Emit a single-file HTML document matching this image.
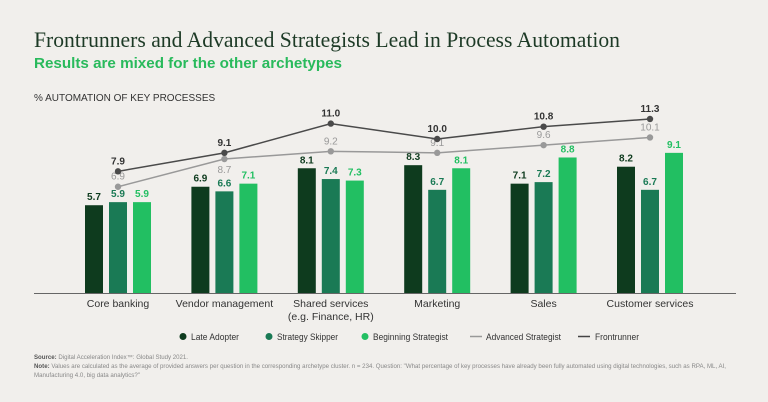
<!DOCTYPE html>
<html><head><meta charset="utf-8">
<style>
body{margin:0;background:#f1efec;}
svg{display:block;font-family:"Liberation Sans",sans-serif;}
</style></head>
<body>
<svg id="chart" width="768" height="402" viewBox="0 0 768 402">
<rect width="768" height="402" fill="#f1efec"/>
<text x="34" y="47" font-family="Liberation Serif,serif" font-size="22" textLength="586" lengthAdjust="spacingAndGlyphs" fill="#1d3a26">Frontrunners and Advanced Strategists Lead in Process Automation</text>
<text x="34" y="68" font-size="15" font-weight="bold" textLength="308" lengthAdjust="spacingAndGlyphs" fill="#29ba5c">Results are mixed for the other archetypes</text>
<text x="34" y="101" font-size="10" fill="#333">% AUTOMATION OF KEY PROCESSES</text>
<g id="bars"></g>
<g id="lines"></g>
<line x1="34" y1="293.5" x2="736" y2="293.5" stroke="#666" stroke-width="1"/>
<g id="xlabels" font-size="10.5" fill="#333" text-anchor="middle"></g>
<g font-size="9.5" fill="#333">
<g><circle cx="183" cy="336.5" r="3.5" fill="#0e3b1e"/><text x="191" y="340" textLength="48" lengthAdjust="spacingAndGlyphs">Late Adopter</text></g>
<g><circle cx="269" cy="336.5" r="3.5" fill="#1a7a55"/><text x="277" y="340" textLength="61" lengthAdjust="spacingAndGlyphs">Strategy Skipper</text></g>
<g><circle cx="365" cy="336.5" r="3.5" fill="#22bf62"/><text x="373" y="340" textLength="75" lengthAdjust="spacingAndGlyphs">Beginning Strategist</text></g>
<g><line x1="470" y1="336.5" x2="482" y2="336.5" stroke="#999" stroke-width="1.5"/><text x="486" y="340" textLength="75" lengthAdjust="spacingAndGlyphs">Advanced Strategist</text></g>
<g><line x1="578" y1="336.5" x2="590" y2="336.5" stroke="#444" stroke-width="1.5"/><text x="595" y="340" textLength="44" lengthAdjust="spacingAndGlyphs">Frontrunner</text></g>
</g>
<g font-size="6" fill="#888">
<text x="34" y="359" textLength="154" lengthAdjust="spacingAndGlyphs"><tspan font-weight="bold" fill="#555">Source:</tspan> Digital Acceleration Index™: Global Study 2021.</text>
<text x="34" y="368" textLength="692" lengthAdjust="spacingAndGlyphs"><tspan font-weight="bold" fill="#555">Note:</tspan> Values are calculated as the average of provided answers per question in the corresponding archetype cluster. n = 234. Question: "What percentage of key processes have already been fully automated using digital technologies, such as RPA, ML, AI,</text>
<text x="34" y="377" textLength="106" lengthAdjust="spacingAndGlyphs">Manufacturing 4.0, big data analytics?"</text>
</g>
</svg>
<script>
const categories=["Core banking","Vendor management","Shared services|(e.g. Finance, HR)","Marketing","Sales","Customer services"];
const lateAdopter=[5.7,6.9,8.1,8.3,7.1,8.2];
const strategySkipper=[5.9,6.6,7.4,6.7,7.2,6.7];
const beginningStrategist=[5.9,7.1,7.3,8.1,8.8,9.1];
const advancedStrategist=[6.9,8.7,9.2,9.1,9.6,10.1];
const frontrunner=[7.9,9.1,11.0,10.0,10.8,11.3];
const advLabelBelow=[false,true,false,false,false,false];

const NS="http://www.w3.org/2000/svg";
const y=v=>293-v*15.4;
const xc=i=>118+i*106.4;
function mk(tag,attrs,parent){const e=document.createElementNS(NS,tag);for(const k in attrs)e.setAttribute(k,attrs[k]);parent.appendChild(e);return e;}
const bars=document.getElementById('bars');
const series=[[lateAdopter,"#0e3b1e","late-adopter",-24],[strategySkipper,"#1a7a55","strategy-skipper",0],[beginningStrategist,"#22bf62","beginning-strategist",24]];
series.forEach(([arr,col,nm,off])=>{
  arr.forEach((v,i)=>{
    const r=mk('rect',{x:xc(i)+off-9,y:y(v),width:18,height:293-y(v),fill:col},bars);
    
    
    const t=mk('text',{x:xc(i)+off,y:y(v)-5,'font-size':10,'font-weight':'bold',fill:col,'text-anchor':'middle'},bars);
    t.textContent=v.toFixed(1);
    
    
  });
});
const lines=document.getElementById('lines');
[[advancedStrategist,"#999","advanced-strategist"],[frontrunner,"#4a4a4a","frontrunner"]].forEach(([arr,col,nm])=>{
  const p=mk('polyline',{points:arr.map((v,i)=>xc(i)+','+y(v)).join(' '),fill:'none',stroke:col,'stroke-width':1.5},lines);
  
  
  arr.forEach((v,i)=>{
    const c=mk('circle',{cx:xc(i),cy:y(v),r:3.2,fill:col},lines);
    
    
    const below=nm==="advanced-strategist"&&advLabelBelow[i];
    const t=mk('text',{x:xc(i),y:below?y(v)+14:y(v)-7,'font-size':10,'font-weight':nm==="frontrunner"?'bold':'normal',fill:nm==="frontrunner"?'#333':'#999','text-anchor':'middle'},lines);
    t.textContent=v.toFixed(1);
    
    
  });
});
const xl=document.getElementById('xlabels');
categories.forEach((c,i)=>{
  c.split('|').forEach((s,j)=>{
    const t=mk('text',{x:xc(i),y:307+j*13},xl);
    t.textContent=s;
    
    
  });
});
</script>
</body></html>
